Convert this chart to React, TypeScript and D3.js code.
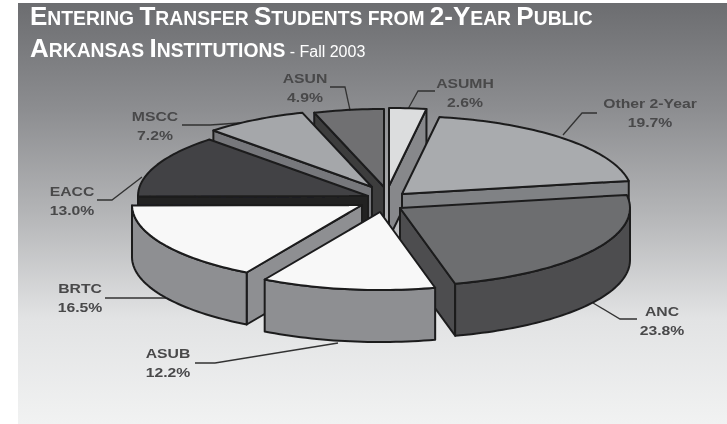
import React from "react";
import * as d3 from "d3";

const categories = ["ASUMH", "Other 2-Year", "ANC", "ASUB", "BRTC", "EACC", "MSCC", "ASUN"];
const shares = [2.6, 19.7, 23.8, 12.2, 16.5, 13.0, 7.2, 4.9];
const valueLabels = ["2.6%", "19.7%", "23.8%", "12.2%", "16.5%", "13.0%", "7.2%", "4.9%"];
const topColors = ["#dcddde", "#a9abae", "#6d6e70", "#f8f8f8", "#f8f8f8", "#424244", "#a5a7aa", "#6f7072"];
const wallColors = ["#87888b", "#808285", "#4d4d4f", "#8e8f92", "#8e8f92", "#222224", "#77787b", "#3c3c3e"];
const apexX = [389, 402, 400, 380, 362, 368, 372, 384];
const apexY = [186, 194, 208, 212, 205, 196, 187, 187];
const paintOrder = [0, 7, 1, 6, 5, 2, 4, 3];
const labelX = [465, 650, 662, 168, 80, 72, 155, 305];
const labelY = [83, 103, 311, 353, 288, 191, 116, 78];
const leaderPaths = [
  [[435, 91], [418, 91], [408, 109]],
  [[597, 113], [582, 113], [563, 135]],
  [[637, 319], [620, 319], [593, 303]],
  [[195, 363], [215, 363], [338, 343]],
  [[105, 298], [166, 298]],
  [[97, 200], [112, 200], [142, 177]],
  [[182, 125], [210, 125], [253, 122]],
  [[330, 87], [345, 87], [350, 110]],
];
const titleLine1 = [["E", "NTERING"], ["T", "RANSFER"], ["S", "TUDENTS"], ["", "FROM"], ["2-Y", "EAR"], ["P", "UBLIC"]];
const titleLine2 = [["A", "RKANSAS"], ["I", "NSTITUTIONS"]];

const W = 727, H = 424, RX = 230, RY = 78, DEPTH = 52;
const FONT = "'Liberation Sans', Arial, sans-serif";

const line = d3.line<[number, number]>().x(d => d[0]).y(d => d[1]);
const pie = d3.pie<number>().sort(null).value(d => d);

function CapsRun({ parts }: { parts: string[][] }) {
  return (
    <>
      {parts.map((p, i) => (
        <tspan key={i}>
          {i > 0 ? " " : ""}
          <tspan fontSize={26}>{p[0]}</tspan>
          {p[1]}
        </tspan>
      ))}
    </>
  );
}

export default function App() {
  const arcs = pie(shares);
  const pt = (i: number, a: number, drop = 0): [number, number] => [
    apexX[i] + RX * Math.sin(a),
    apexY[i] - RY * Math.cos(a) + drop,
  ];
  const sample = (i: number, a0: number, a1: number, drop = 0) => {
    const n = Math.max(2, Math.ceil(Math.abs(a1 - a0) * 40));
    return d3.range(n + 1).map(k => pt(i, a0 + ((a1 - a0) * k) / n, drop));
  };
  const ap = (i: number, drop = 0): [number, number] => [apexX[i], apexY[i] + drop];
  const quad = (i: number, a: number) =>
    line([ap(i), pt(i, a), pt(i, a, DEPTH), ap(i, DEPTH)]) + "Z";

  return (
    <svg width={W} height={H} style={{ position: "absolute", left: 0, top: 0, background: "#fff" }}>
      <defs>
        <linearGradient id="bg" x1="0" y1="0" x2="0" y2="1">
          <stop offset="0" stopColor="#6c6d70" />
          <stop offset="0.25" stopColor="#8c8d90" />
          <stop offset="0.5" stopColor="#b4b5b7" />
          <stop offset="0.75" stopColor="#e2e3e4" />
          <stop offset="1" stopColor="#f1f2f2" />
        </linearGradient>
        <filter id="soft" x="-5%" y="-5%" width="110%" height="110%">
          <feGaussianBlur stdDeviation="0.7" />
        </filter>
        <filter id="softTitle" x="-5%" y="-5%" width="110%" height="110%">
          <feGaussianBlur stdDeviation="0.4" />
        </filter>
      </defs>
      <rect x={18} y={3} width={W - 18} height={H - 3} fill="url(#bg)" />
      <g filter="url(#soft)">
        {leaderPaths.map((p, i) => (
          <path key={i} d={line(p as [number, number][]) ?? ""} fill="none" stroke="#333" strokeWidth={1.3} />
        ))}
        {paintOrder.map(i => {
          const { startAngle: s, endAngle: e } = arcs[i];
          const lo = Math.max(s, Math.PI / 2);
          const hi = Math.min(e, (3 * Math.PI) / 2);
          const top = line([ap(i), ...sample(i, s, e)]) + "Z";
          const stroke = { stroke: "#1c1c1e", strokeWidth: 2, strokeLinejoin: "round" as const };
          return (
            <g key={categories[i]}>
              {Math.sin(s) < -1e-6 && <path d={quad(i, s)} fill={wallColors[i]} {...stroke} />}
              {Math.sin(e) > 1e-6 && <path d={quad(i, e)} fill={wallColors[i]} {...stroke} />}
              {hi > lo && (
                <path
                  d={line([...sample(i, lo, hi), ...sample(i, hi, lo, DEPTH)]) + "Z"}
                  fill={wallColors[i]}
                  {...stroke}
                />
              )}
              <path d={top} fill={topColors[i]} {...stroke} />
            </g>
          );
        })}
        {categories.map((c, i) => (
          <g
            key={c}
            transform={`translate(${labelX[i]},${labelY[i]}) scale(1.25,1)`}
            fontFamily={FONT}
            fontWeight="700"
            fontSize={12.6}
            fill="#48484a"
            textAnchor="middle"
          >
            <text y={5}>{c}</text>
            <text y={24}>{valueLabels[i]}</text>
          </g>
        ))}
      </g>
      <g filter="url(#softTitle)" fill="#fff" fontFamily={FONT} fontWeight="700" fontSize={19.3}>
        <text x={30} y={25}>
          <CapsRun parts={titleLine1} />
        </text>
        <text x={30} y={57}>
          <CapsRun parts={titleLine2} />
          <tspan fontWeight="400" fontSize={16}> - Fall 2003</tspan>
        </text>
      </g>
    </svg>
  );
}
